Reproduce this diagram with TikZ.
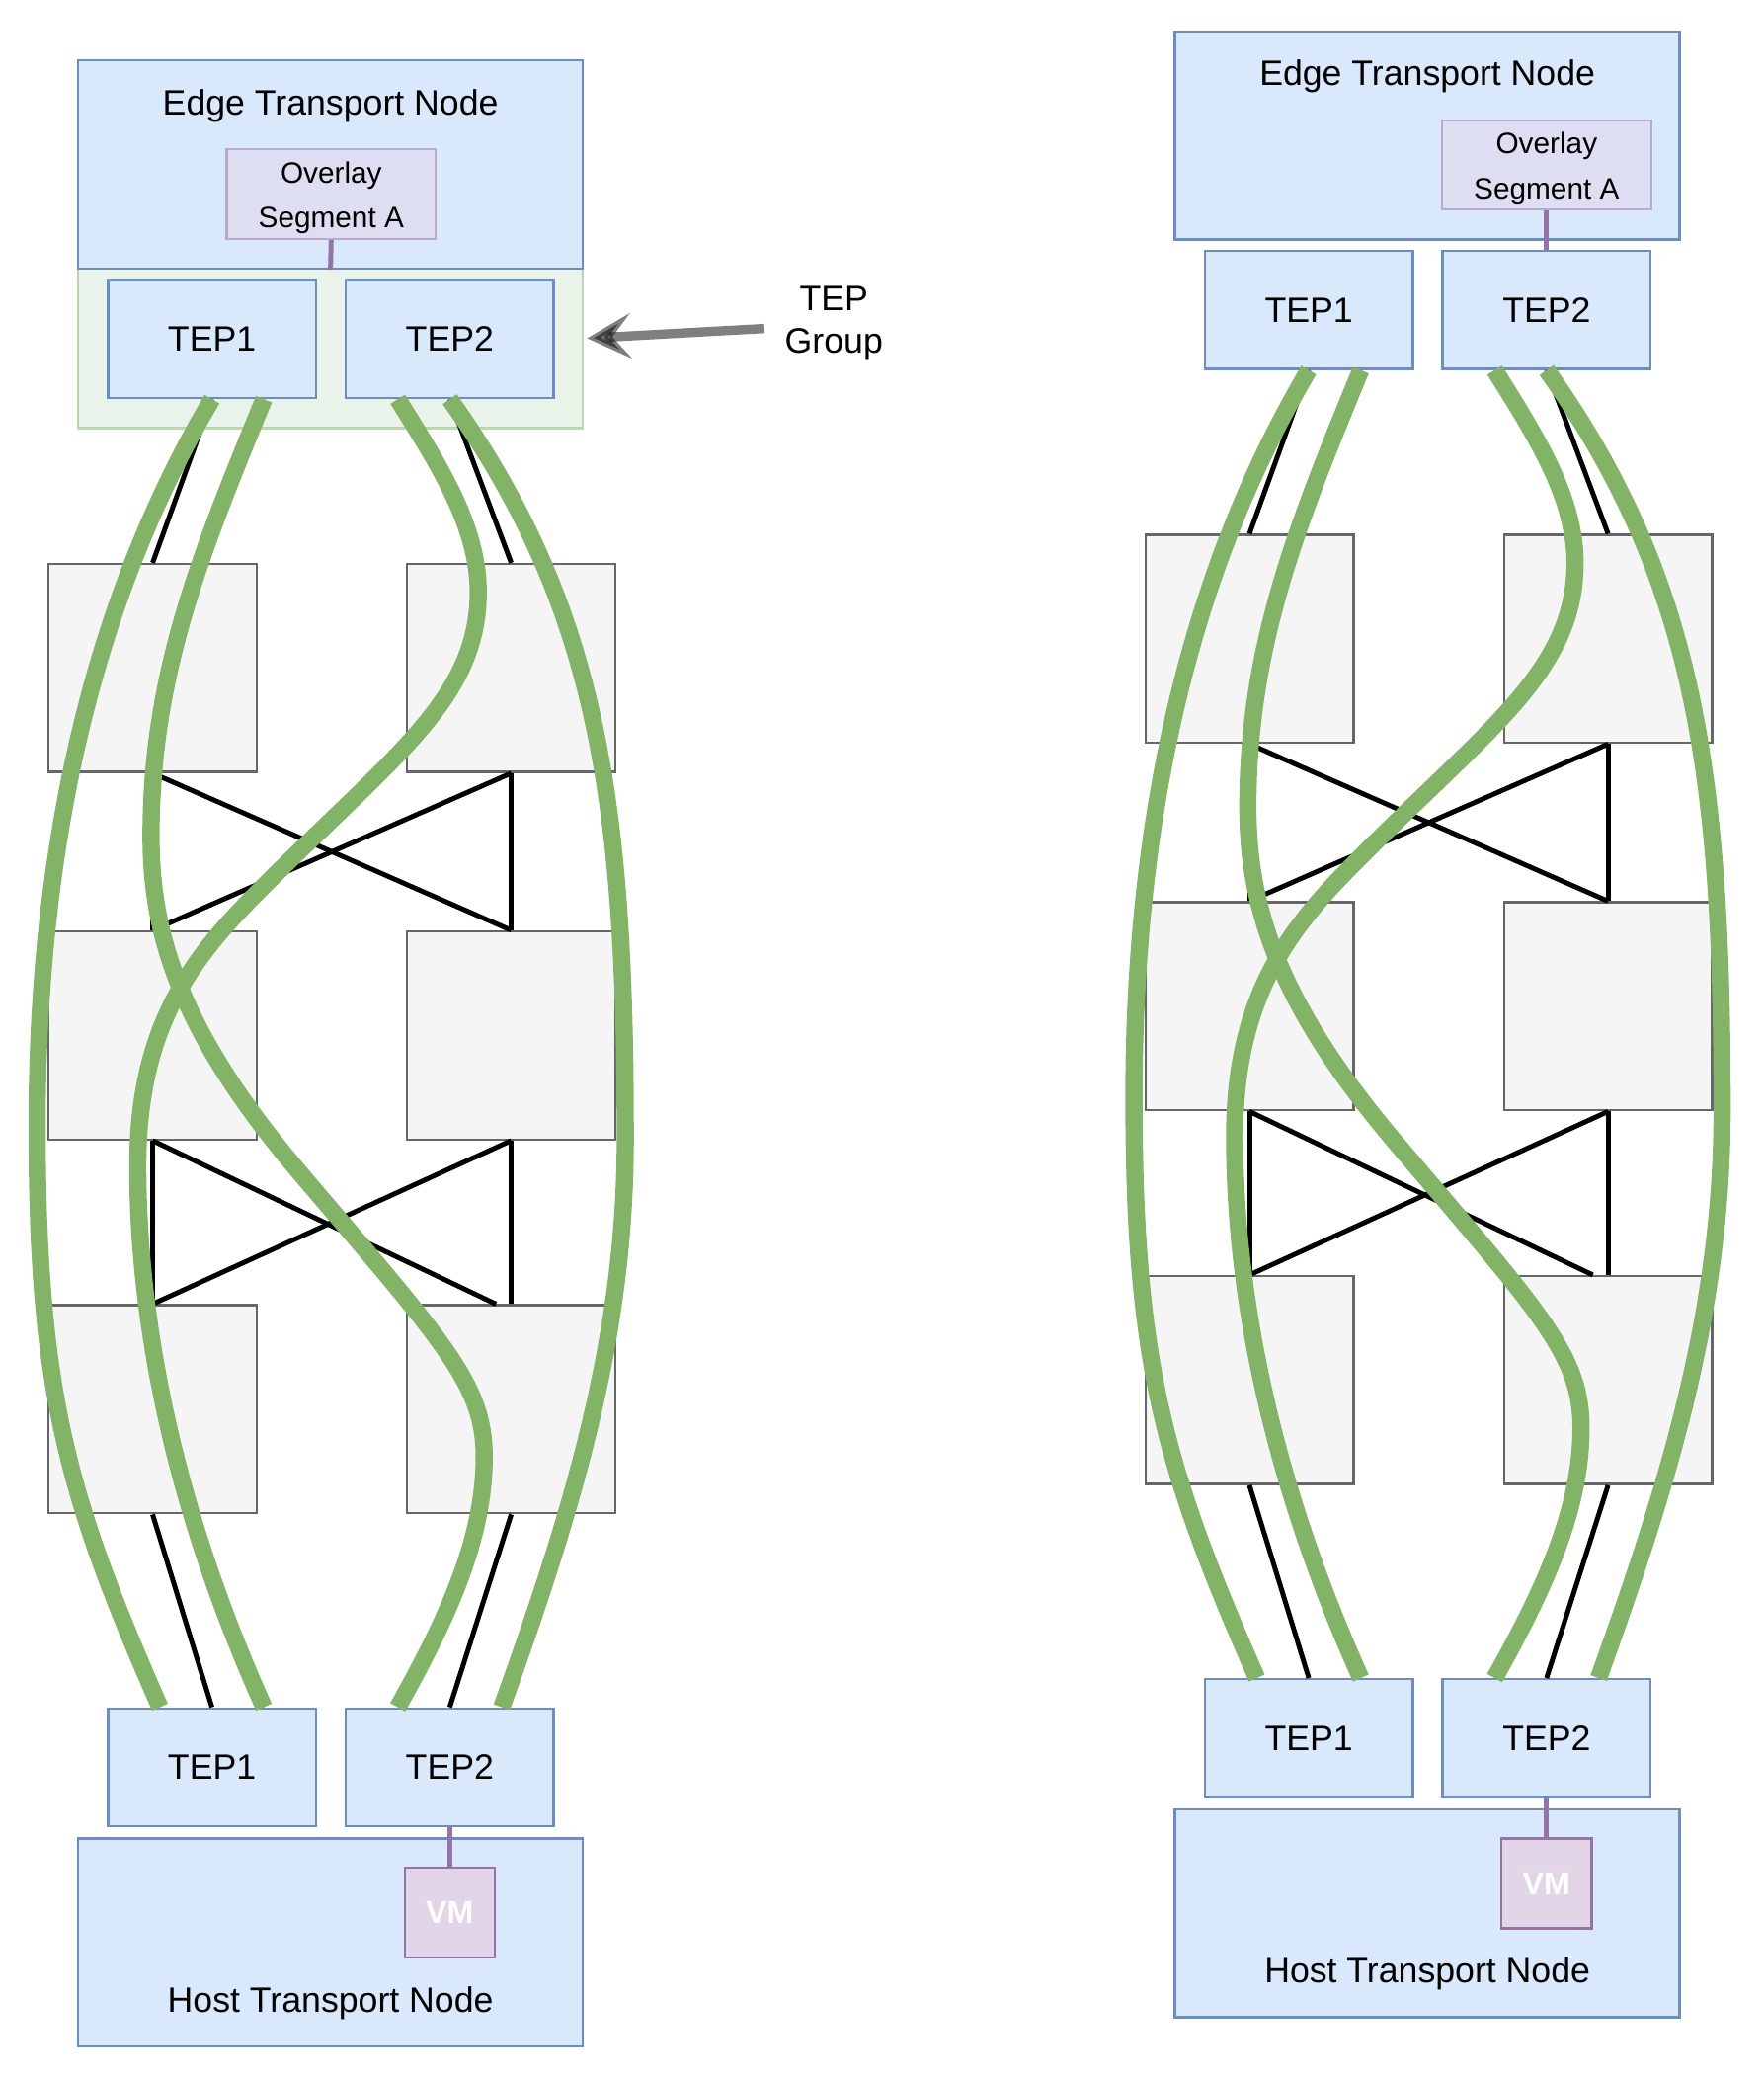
\documentclass[tikz,border=0pt]{standalone}
\usepackage{fontspec}
\setmainfont{Liberation Sans}
\usetikzlibrary{arrows.meta,positioning}

\definecolor{tepfill}{HTML}{DAE8FC}
\definecolor{tepline}{HTML}{6C8EBF}
\definecolor{swfill}{HTML}{F5F5F5}
\definecolor{swline}{HTML}{666666}
\definecolor{segfill}{HTML}{E1D5E7}
\definecolor{segline}{HTML}{9673A6}
\definecolor{grpfill}{HTML}{D5E8D4}
\definecolor{tunnelgreen}{HTML}{82B366}

\tikzset{
  bigtext/.style={font=\fontsize{26.6}{32}\selectfont},
  tepbox/.style={draw=tepline, fill=tepfill, line width=1.8pt, minimum width=157pt, minimum height=89pt, inner sep=0pt, bigtext},
  nodebox/.style={draw=tepline, fill=tepfill, line width=1.8pt, minimum width=381pt, minimum height=157pt, inner sep=0pt},
  grpbox/.style={draw=tunnelgreen, fill=grpfill, line width=1.8pt, opacity=0.5, minimum width=381pt, minimum height=120.5pt, inner sep=0pt},
  swbox/.style={draw=swline, fill=swfill, line width=1.8pt, minimum size=157pt, inner sep=0pt},
  segbox/.style={draw=segline, fill=segfill, line width=1.8pt, opacity=0.5, minimum width=158pt, minimum height=67.5pt, inner sep=0pt},
  segtext/.style={align=center, font=\fontsize{22.2}{33.7}\selectfont},
  grptext/.style={align=center, font=\fontsize{26.6}{32.2}\selectfont},
  vmbox/.style={draw=segline, fill=segfill, line width=1.8pt, minimum size=68pt, inner sep=0pt, text=white, font=\fontsize{24}{28}\selectfont\bfseries},
  uplink/.style={line width=3.7pt},
  seglink/.style={draw=segline, line width=3.7pt},
  tunnel/.style={draw=tunnelgreen, line width=13pt},
  grparrow/.style={draw=black, draw opacity=0.5, fill opacity=0.5, line width=7pt, -{Stealth[length=33pt,width=34pt,inset=14pt]}},
}

\begin{document}
\begin{tikzpicture}[x=1pt, y=-1pt]
\useasboundingbox (0,0) rectangle (1331,1568);

% TEP group behind the left edge TEPs
\node[grpbox] (grp) at (249.5,262.9) {};

\foreach \p/\dx/\dy in {l/0/0, r/828/-22} {
\begin{scope}[shift={(\dx,\dy)}]
  % edge transport node and its TEPs
  \node[nodebox] (\p edge) at (249.5,124.2) {};
  \node[bigtext, anchor=base] (\p edgelbl) at (249.5,86.5) {Edge Transport Node};
  \node[tepbox] (\p t1) at (160,256) {TEP1};
  \node[tepbox, right=20.7pt of \p t1] (\p t2) {TEP2};

  % switches
  \foreach \r/\y in {1/504.3, 2/781.7, 3/1063.9} {
    \node[swbox] (\p s\r1) at (115.2,\y) {};
    \node[swbox] (\p s\r2) at (385.9,\y) {};
  }

  % host transport node and its TEPs
  \node[tepbox] (\p b1) at (160,1334.2) {TEP1};
  \node[tepbox, right=20.7pt of \p b1] (\p b2) {TEP2};
  \node[nodebox] (\p host) at (249.5,1466.3) {};
  \node[bigtext, anchor=base] (\p hostlbl) at (249.5,1518.8) {Host Transport Node};
  \node[vmbox] (\p vm) at (\p b2 |- 0,1443.8) {VM};
  \draw[seglink] (\p b2.south) -- (\p vm.north);

  % physical links
  \draw[uplink] (\p t1.south) -- (\p s11.north);
  \draw[uplink] (\p t2.south) -- (\p s12.north);
  \foreach \r/\n in {1/2, 2/3} {
    \draw[uplink] (\p s\r1.south) -- (\p s\n1.north);
    \draw[uplink] (\p s\r2.south) -- (\p s\n2.north);
    \draw[uplink] (\p s\r2.south) -- (\p s\n1.north);
  }
  \draw[uplink] (\p s11.south) -- (\p s22.north);
  \draw[uplink] (\p s21.south) -- ([xshift=-11.5pt]\p s32.north);
  \draw[uplink] (\p s31.south) -- (\p b1.north);
  \draw[uplink] (\p s32.south) -- (\p b2.north);

  % tunnel ends
  \coordinate (\p t1r) at ([xshift=39.25pt]\p t1.south);
  \coordinate (\p t2l) at ([xshift=-39.25pt]\p t2.south);
  \coordinate (\p b1l) at ([xshift=-39.25pt]\p b1.north);
  \coordinate (\p b1r) at ([xshift=39.25pt]\p b1.north);
  \coordinate (\p b2l) at ([xshift=-39.25pt]\p b2.north);
  \coordinate (\p b2r) at ([xshift=39.25pt]\p b2.north);

  % overlay tunnels
  \draw[tunnel] (\p t1.south) .. controls (65.6,461) and (28,650) .. (28,850)
    .. controls (28,1050) and (50.4,1129) .. (\p b1l);
  \draw[tunnel] (\p t1r) .. controls (150,421) and (114,511) .. (114,631)
    .. controls (114,701) and (132.5,775) .. (226,885)
    .. controls (336.5,1015) and (365.5,1045) .. (365.5,1100)
    .. controls (365.5,1160) and (339.5,1219) .. (\p b2l);
  \draw[tunnel] (\p t2l) .. controls (331.25,351) and (361,397) .. (361,447)
    .. controls (361,527) and (299,569) .. (199,669)
    .. controls (149,719) and (104,770) .. (104,880)
    .. controls (104,1000) and (131.75,1139) .. (\p b1r);
  \draw[tunnel] (\p t2.south) .. controls (453,461) and (472,610) .. (472,860)
    .. controls (472,1010) and (432.75,1139) .. (\p b2r);
\end{scope}
}

% left: segment in the edge node
\node[segbox] (lseg) at (250,146.5) {};
\node[segtext] (lsegtxt) at ([yshift=-2.9pt]lseg.center) {Overlay\\Segment A};
\draw[seglink] (lseg.south) -- (ledge.south);

% right: segment above TEP2
\node[segbox] (rseg) at (rt2 |- 0,124.5) {};
\node[segtext] (rsegtxt) at ([yshift=-2.9pt]rseg.center) {Overlay\\Segment A};
\draw[seglink] (rseg.south) -- (rt2.north);

% TEP group callout
\node[grptext] (grplbl) at (629.5,244) {TEP\\Group};
\coordinate (grptail) at (577,248);
\draw[grparrow] (grptail) -- ([xshift=2.3pt, yshift=7.5pt]grp.east);
\end{tikzpicture}
\end{document}
